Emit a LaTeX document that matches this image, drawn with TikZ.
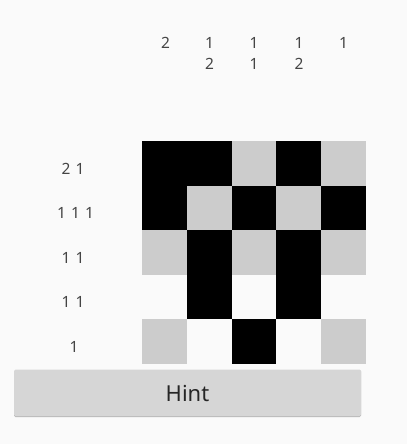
\documentclass[tikz,border=0pt]{standalone}
\usepackage{fontspec}
\setmainfont{Noto Sans}
\definecolor{pagebg}{HTML}{FAFAFA}
\definecolor{cellgray}{HTML}{CCCCCC}
\definecolor{btngray}{HTML}{D6D6D6}
\definecolor{btnshadow}{HTML}{BABABA}
\definecolor{cluetext}{HTML}{444444}
\tikzset{
  clue/.style={text=cluetext, font=\fontsize{15.5}{18}\selectfont, inner sep=0pt},
  hintbtn/.style={fill=btngray, rounded corners=1.5pt},
}
\begin{document}
\begin{tikzpicture}[x=1pt, y=-1pt]
    % page
    \fill[pagebg] (0,0) rectangle (407,444);
    \useasboundingbox (0,0) rectangle (407,444);

    % column clues
    \node[clue] (c1a) at (165.5,43) {2};
    \node[clue] (c2a) at (209.5,43) {1};
    \node[clue] (c2b) at (209.5,64) {2};
    \node[clue] (c3a) at (254,43) {1};
    \node[clue] (c3b) at (254,64) {1};
    \node[clue] (c4a) at (299,43) {1};
    \node[clue] (c4b) at (299,64) {2};
    \node[clue] (c5a) at (343.5,43) {1};

    % row clues
    \node[clue] (r1) at (73,169) {2\,\,1};
    \node[clue] (r2) at (75.5,213) {1\,\,1\,\,1};
    \node[clue] (r3) at (73,258) {1\,\,1};
    \node[clue] (r4) at (73,302) {1\,\,1};
    \node[clue] (r5) at (74,347) {1};

    % grid: column/row/colour (white cells left blank)
    \foreach \c/\r/\col in {0/0/black, 1/0/black, 2/0/cellgray, 3/0/black, 4/0/cellgray,
                            0/1/black, 1/1/cellgray, 2/1/black, 3/1/cellgray, 4/1/black,
                            0/2/cellgray, 1/2/black, 2/2/cellgray, 3/2/black, 4/2/cellgray,
                            1/3/black, 3/3/black,
                            0/4/cellgray, 2/4/black, 4/4/cellgray}
        \fill[\col] (142.3+44.7*\c,141+44.6*\r) rectangle ++(44.7,44.6);

    % hint button, with a thin shadow under it
    \fill[btnshadow, rounded corners=1.5pt] (14,370) rectangle (361,417);
    \fill[hintbtn] (14,369.5) rectangle (361,416);
    \node[font=\fontsize{22}{26}\selectfont, text=black!85, inner sep=0pt] (hint) at (187.5,393) {Hint};
\end{tikzpicture}
\end{document}
